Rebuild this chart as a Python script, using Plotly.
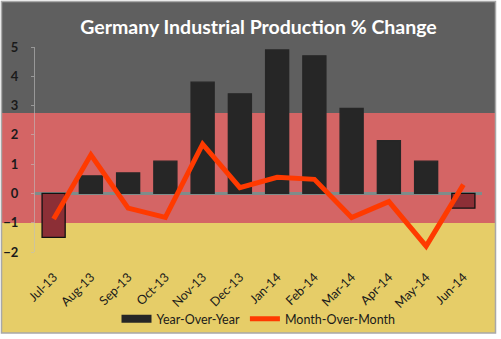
import plotly.graph_objects as go

months = ["Jul-13", "Aug-13", "Sep-13", "Oct-13", "Nov-13", "Dec-13",
          "Jan-14", "Feb-14", "Mar-14", "Apr-14", "May-14", "Jun-14"]
yoy = [-1.5, 0.6, 0.7, 1.1, 3.8, 3.4, 4.9, 4.7, 2.9, 1.8, 1.1, -0.5]
mom = [-0.87, 1.32, -0.5, -0.82, 1.68, 0.2, 0.55, 0.48, -0.82, -0.28, -1.8, 0.3]
y_ticks = [-2, -1, 0, 1, 2, 3, 4, 5]

W, H = 501, 339
L, R, T, B = 35, 19, 47, 87
pw, ph = W - L - R, H - T - B


def px_x(x):
    return (x - L) / pw


def px_y(y):
    return (H - B - y) / ph


bar_colors = ["#262626" if v >= 0 else "#8c2f36" for v in yoy]
bar_lines = ["#262626" if v >= 0 else "#111111" for v in yoy]

fig = go.Figure()
fig.add_trace(go.Bar(
    x=months, y=yoy, name="Year-Over-Year", showlegend=False,
    legendgroup="yoy",
    marker=dict(color=bar_colors, line=dict(color=bar_lines, width=1.3)),
))
# legend entry for the bars (wide dark swatch)
fig.add_trace(go.Scatter(
    x=[None], y=[None], name="Year-Over-Year", legendgroup="yoy",
    mode="lines", line=dict(color="#262626", width=8),
))
fig.add_trace(go.Scatter(
    x=months, y=mom, name="Month-Over-Month", mode="lines",
    line=dict(color="#ff3a00", width=5),
))

bands = [
    (2, 113, "#5f5f5f"),
    (113, 223, "#d46565"),
    (223, 333, "#e6cd68"),
]
shapes = []
for top, bot, col in bands:
    shapes.append(dict(type="rect", xref="paper", yref="paper",
                       x0=px_x(2), x1=px_x(495), y0=px_y(bot), y1=px_y(top),
                       fillcolor=col, line=dict(width=0), layer="below"))
shapes.append(dict(type="rect", xref="paper", yref="paper",
                   x0=px_x(1.5), x1=px_x(495.5), y0=px_y(333), y1=px_y(1.5),
                   fillcolor="rgba(0,0,0,0)", line=dict(color="#a8a8a8", width=1.5),
                   layer="below"))

fig.update_layout(
    width=W, height=H,
    margin=dict(l=L, r=R, t=T, b=B, autoexpand=False),
    paper_bgcolor="white",
    plot_bgcolor="rgba(0,0,0,0)",
    shapes=shapes,
    bargap=0.38,
    title=dict(text="<b>Germany Industrial Production % Change</b>",
               x=0.5, xref="paper", xanchor="center",
               y=1 - 27 / H, yref="container", yanchor="middle",
               font=dict(family="Lato", size=19.5, color="white")),
    font=dict(family="Lato", color="#1a1a1a"),
    showlegend=True,
    legend=dict(orientation="h", x=0.5, xanchor="center", y=px_y(319),
                yanchor="middle", font=dict(size=12.5, color="#1a1a1a"),
                bgcolor="rgba(0,0,0,0)", itemwidth=30, traceorder="normal"),
    xaxis=dict(type="category", tickangle=-45, showgrid=False, automargin=False,
               tickfont=dict(size=12.5, color="#1a1a1a"),
               ticks="outside", ticklen=0, ticklabelstandoff=12,
               showline=False),
    yaxis=dict(range=[-2, 5], tickvals=y_ticks, showgrid=False, automargin=False,
               tickfont=dict(size=13, color="#1a1a1a", weight="bold"),
               ticklabelstandoff=10,
               showline=True, linecolor="rgba(190,190,190,0.6)", linewidth=1,
               ticks="outside", ticklen=3, tickcolor="rgba(190,190,190,0.6)",
               zeroline=True, zerolinecolor="#7f8c8a", zerolinewidth=3),
)

fig.write_html("out.html")
